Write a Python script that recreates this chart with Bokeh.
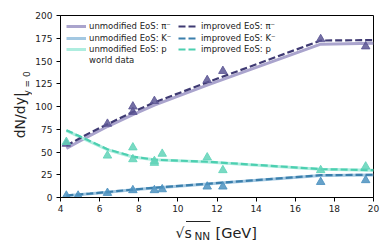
import math
from bokeh.plotting import figure
from bokeh.layouts import column, row
from bokeh.models import Legend, LegendItem, FixedTicker, Range1d
from bokeh.core.properties import value
from bokeh.embed import file_html
from bokeh.resources import INLINE

# ---- data ----
model_x = [4.3, 4.9, 5.5, 6.4, 7.7, 8.8, 11.5, 17.3, 20.0]
pi_unmod = [54, 61, 68, 78, 91, 101.5, 123.5, 168.5, 169.5]
pi_impr = [57, 64, 71, 80.5, 94, 104.5, 126.5, 172.5, 173]
k_unmod = [2.0, 3.0, 4.0, 5.8, 8.5, 10.5, 14.8, 24.3, 24.8]
k_impr = [2.2, 3.2, 4.2, 6.0, 8.7, 10.7, 15.0, 24.5, 25.0]
p_unmod = [73.5, 67.5, 61.5, 52.5, 44.5, 41.5, 39.0, 31.0, 30.0]
p_impr = [74, 68, 62, 53, 45, 41.5, 39.3, 31.2, 30.0]

pi_data_x = [4.3, 6.4, 7.7, 7.7, 8.8, 11.5, 12.3, 17.3, 19.6]
pi_data_y = [59, 81, 100, 94, 106, 129, 139, 174, 166]
k_data_x = [4.3, 4.9, 6.4, 7.7, 8.8, 9.2, 11.5, 12.3, 17.3, 19.6]
k_data_y = [2, 2, 5, 8, 8, 9, 12, 12, 17, 19]
p_data_x = [4.3, 6.4, 7.7, 7.7, 8.8, 8.8, 9.2, 11.5, 12.3, 17.3, 19.6]
p_data_y = [61, 46, 55, 42, 40, 38, 48, 44, 30, 30, 34]

x_ticks = [4, 6, 8, 10, 12, 14, 16, 18, 20]
y_ticks = [0, 25, 50, 75, 100, 125, 150, 175, 200]

C_PI_U, C_PI_I, C_PI_D = "#aaa4cd", "#3f3a73", "#5c5694"
C_K_U, C_K_I, C_K_D = "#a3c8e2", "#3b7fac", "#4c92c0"
C_P_U, C_P_I, C_P_D = "#aeeddf", "#4ccfb0", "#62d3b9"
TC = "#222222"
FONT = "DejaVu Sans"

# ---- geometry (page pixels) ----
YW = 32            # width of y-label strip
BL, BR, BT, BB = 27, 9, 15, 20
FW, FH = 314, 182
PW, PH = BL + FW + BR, BT + FH + BB
XH = 24            # height of x-label strip
TOTAL_W = YW + PW

p = figure(width=PW, height=PH, output_backend="svg", toolbar_location=None,
           x_range=Range1d(4, 20), y_range=Range1d(0, 200),
           min_border_left=BL, min_border_right=BR, min_border_top=BT, min_border_bottom=BB)
p.grid.visible = False
p.outline_line_color = "black"
p.outline_line_width = 1

for ax, ticks in ((p.xaxis, x_ticks), (p.yaxis, y_ticks)):
    ax.ticker = FixedTicker(ticks=ticks)
    ax.major_tick_out = 4
    ax.major_tick_in = 0
    ax.minor_tick_out = 0
    ax.minor_tick_in = 0
    ax.axis_line_color = "black"
    ax.major_tick_line_color = "black"
    ax.major_label_text_font = FONT
    ax.major_label_text_font_size = "9px"
    ax.major_label_text_color = TC
    ax.axis_label = None
p.xaxis.major_label_standoff = 3
p.yaxis.major_label_standoff = 4

r_pu = p.line(model_x, pi_unmod, line_color=C_PI_U, line_width=3)
r_ku = p.line(model_x, k_unmod, line_color=C_K_U, line_width=3)
r_pru = p.line(model_x, p_unmod, line_color=C_P_U, line_width=3)
r_pi = p.line(model_x, pi_impr, line_color=C_PI_I, line_width=2.2, line_dash="7 3")
r_ki = p.line(model_x, k_impr, line_color=C_K_I, line_width=2.2, line_dash="7 3")
r_pri = p.line(model_x, p_impr, line_color=C_P_I, line_width=2.2, line_dash="7 3")

p.scatter(pi_data_x, pi_data_y, marker="triangle", size=8.5, fill_color=C_PI_D, line_color=C_PI_D, alpha=0.85)
p.scatter(k_data_x, k_data_y, marker="triangle", size=8.5, fill_color=C_K_D, line_color=C_K_D, alpha=0.85)
p.scatter(p_data_x, p_data_y, marker="triangle", size=8.5, fill_color=C_P_D, line_color=C_P_D, alpha=0.85)
r_wd = p.scatter([], [], marker="triangle", size=8.5, fill_color="#999999", line_color="#999999", alpha=0.9)

# legend: one single-row legend per entry (row box 16 px tall, so its centre is known)
ROW_H = 16
ROW_CENTRES = [26.3, 37.6, 48.9, 60.2]          # page px of each row centre
ROW_Y = [BT + FH - c - ROW_H / 2 for c in ROW_CENTRES]

def legend_row(label, rend, x, y):
    lg = Legend(items=[LegendItem(label=label, renderers=[rend])], location=(x, y),
                label_text_font=FONT, label_text_font_size="8.5px",
                glyph_width=20, glyph_height=ROW_H, label_height=ROW_H, label_standoff=3,
                spacing=0, padding=0, margin=0, border_line_alpha=0,
                background_fill_alpha=0, label_text_color=TC)
    p.add_layout(lg)

for (lab, rend), y in zip([("unmodified EoS: π⁻", r_pu), ("unmodified EoS: K⁻", r_ku),
                           ("unmodified EoS: p", r_pru), ("world data", r_wd)], ROW_Y):
    legend_row(lab, rend, 6, y)
for (lab, rend), y in zip([("improved EoS: π⁻", r_pi), ("improved EoS: K⁻", r_ki),
                           ("improved EoS: p", r_pri)], ROW_Y):
    legend_row(lab, rend, 118, y)


def strip(w, h):
    f = figure(width=w, height=h, output_backend="svg", toolbar_location=None,
               x_range=Range1d(0, w), y_range=Range1d(0, h),
               x_axis_type=None, y_axis_type=None,
               min_border_left=0, min_border_right=0, min_border_top=0, min_border_bottom=0)
    f.grid.visible = False
    f.outline_line_color = None
    return f

def txt(f, x, y, s, size, angle=0.0, align="left", baseline="alphabetic"):
    f.text(x=[x], y=[y], text=[s], angle=angle, text_font=value(FONT),
           text_font_size=value(size), text_baseline=baseline, text_align=align,
           text_color=TC)

# y-axis label strip (local coords: x from left, y from bottom; height PH)
yl = strip(YW, PH)
txt(yl, 19, PH - 119, "dN/dy|", "14px", math.pi / 2, "center", "middle")
txt(yl, 26, PH - 81, "y = 0", "9px", math.pi / 2, "center", "middle")

# x-axis label strip (page y = PH + (XH - local y))
xl = strip(TOTAL_W, XH)
base = PH + XH - 232
txt(xl, 175, base, "√s", "14px")
txt(xl, 194, base - 3, "NN", "10.5px")
txt(xl, 215, base, "[GeV]", "14.5px")
xl.segment(x0=[185.5], y0=[PH + XH - 221], x1=[210], y1=[PH + XH - 221], line_color=TC, line_width=1)

layout = column(row(yl, p, spacing=0), xl, spacing=0)
open("out.html", "w").write(file_html(layout, INLINE))
